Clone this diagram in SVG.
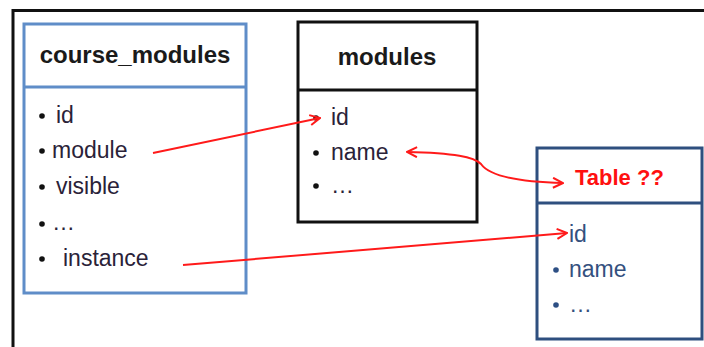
<svg xmlns="http://www.w3.org/2000/svg" width="704" height="347" viewBox="0 0 704 347">
<defs>
<style>
.title{font-family:"Liberation Sans",Arial,sans-serif;font-weight:bold;font-size:24px;fill:#1a1a1a;text-anchor:middle}
.item{font-family:"Liberation Sans",Arial,sans-serif;font-size:23px;fill:#2a2238}
.item2{font-family:"Liberation Sans",Arial,sans-serif;font-size:23px;fill:#34507e}
.bul{fill:#111}
.bul2{fill:#2d4f84}
.conn{fill:none;stroke:#ff1a1a;stroke-width:2;marker-end:url(#ah)}
</style>
<marker id="ah" viewBox="0 0 12 12" refX="11" refY="6" markerWidth="12" markerHeight="12" markerUnits="userSpaceOnUse" orient="auto-start-reverse">
<path d="M1,1 L11,6 L1,11" fill="none" stroke="#ff1a1a" stroke-width="2"/>
</marker>
</defs>
<rect width="704" height="347" fill="#ffffff"/>
<g id="frame">
<path d="M13,347 V10.5 H704" fill="none" stroke="#111" stroke-width="3"/>
</g>
<g id="course_modules">
<rect x="24" y="24" width="222" height="269" fill="#fff" stroke="#5f8dc8" stroke-width="3"/>
<line x1="24" y1="87" x2="246" y2="87" stroke="#5f8dc8" stroke-width="3"/>
<text class="title" x="135" y="63">course_modules</text>
<circle class="bul" cx="42" cy="116" r="2.8"/>
<text class="item" x="56" y="123">id</text>
<circle class="bul" cx="42" cy="151" r="2.8"/>
<text class="item" x="52" y="158">module</text>
<circle class="bul" cx="42" cy="187" r="2.8"/>
<text class="item" x="56" y="194">visible</text>
<circle class="bul" cx="42" cy="224" r="2.8"/>
<text class="item" x="52" y="230">…</text>
<circle class="bul" cx="42" cy="259" r="2.8"/>
<text class="item" x="63" y="266">instance</text>
</g>
<g id="modules">
<rect x="298" y="22" width="179" height="200" fill="#fff" stroke="#111" stroke-width="3"/>
<line x1="298" y1="90" x2="477" y2="90" stroke="#111" stroke-width="3"/>
<text class="title" x="387" y="65">modules</text>
<circle class="bul" cx="316" cy="118" r="2.8"/>
<text class="item" x="331" y="125">id</text>
<circle class="bul" cx="316" cy="153" r="2.8"/>
<text class="item" x="331" y="160">name</text>
<circle class="bul" cx="316" cy="186" r="2.8"/>
<text class="item" x="331" y="193">…</text>
</g>
<g id="table">
<rect x="537" y="148" width="165" height="191" fill="#fff" stroke="#2e4f7f" stroke-width="3"/>
<line x1="537" y1="203" x2="702" y2="203" stroke="#2e4f7f" stroke-width="3"/>
<text x="575" y="185" font-family="Liberation Sans,Arial,sans-serif" font-weight="bold" font-size="22" fill="#ff1010">Table ??</text>
<text class="item2" x="569" y="242">id</text>
<circle class="bul2" cx="556" cy="270" r="2.8"/>
<text class="item2" x="569" y="277">name</text>
<circle class="bul2" cx="556" cy="305" r="2.8"/>
<text class="item2" x="569" y="312">…</text>
</g>
<g id="connectors">
<path class="conn" d="M153,153 L320,118"/>
<path class="conn" d="M183,265 L567,233"/>
<path class="conn" style="marker-start:url(#ah)" d="M407,152 C455,153 474,157 481,164 C490,177 520,182 563,183"/>
</g>
</svg>
